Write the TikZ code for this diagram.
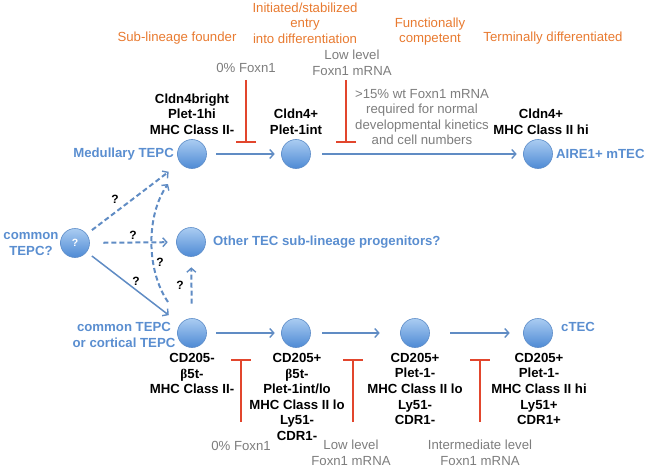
\documentclass[tikz,border=0pt]{standalone}
\usepackage{fontspec}
\setmainfont{Liberation Sans}
\newfontfamily\serifbeta{Liberation Serif}
\usetikzlibrary{arrows.meta}
\definecolor{orangeT}{RGB}{232,122,48}
\definecolor{blueT}{RGB}{90,142,208}
\definecolor{grayT}{RGB}{125,125,125}
\definecolor{redL}{RGB}{226,70,45}
\definecolor{arrowB}{RGB}{96,140,196}
\definecolor{circTop}{RGB}{170,204,242}
\definecolor{circBot}{RGB}{78,138,212}
\definecolor{circEdge}{RGB}{92,140,200}
\newcommand{\bt}{{\serifbeta\bfseries\char"03B2}}
\begin{document}
\begin{tikzpicture}[x=1pt,y=-1pt,
  every node/.style={inner sep=0pt, font=\fontsize{13.2}{15.6}\selectfont},
  cell/.style={circle, minimum size=29pt, draw=circEdge, line width=0.6pt, top color=circTop, bottom color=circBot},
  orng/.style={text=orangeT, align=center},
  gry/.style={text=grayT, align=center},
  mlabel/.style={text=black, align=center, font=\fontsize{13.2}{15.6}\selectfont\bfseries},
  blu/.style={text=blueT, font=\fontsize{13.2}{15.6}\selectfont\bfseries},
  qm/.style={text=black, font=\fontsize{12}{14}\selectfont\bfseries},
  flow/.style={draw=arrowB, line width=1.5pt, -{Straight Barb[length=4pt,width=9pt,line width=1.4pt]}},
  dflow/.style={flow, line width=2pt, dash pattern=on 5pt off 3pt},
  inhib/.style={draw=redL, line width=2pt, -{Bar[width=20pt,line width=2pt]}}
]
\useasboundingbox (0,0) rectangle (647,468);

% cells
\node[cell] (mt) at (192,154) {};
\node[cell] (m2) at (296,154) {};
\node[cell] (m3) at (538,154) {};
\node[cell] (ct) at (75,243) {\color{white}\fontsize{10.5}{12}\selectfont\bfseries ?};
\node[cell] (ot) at (191,242) {};
\node[cell] (c1) at (192,333) {};
\node[cell] (c2) at (296,333) {};
\node[cell] (c3) at (415,333) {};
\node[cell] (c4) at (538,333) {};

% stage labels
\node[orng] (s1) at (177,38) {Sub-lineage founder};
\node[orng] (s2) at (305,23) {Initiated/stabilized\\entry\\into differentiation};
\node[orng] (s3) at (430,31.5) {Functionally\\competent};
\node[orng] (s4) at (553,38) {Terminally differentiated};

% top gray labels
\node[gry] (g1) at (246,68) {0\% Foxn1};
\node[gry] (g2) at (352,63) {Low level\\Foxn1 mRNA};
\node[gry] (g3) at (422,117) {>15\% wt Foxn1 mRNA\\required for normal\\developmental kinetics\\and cell numbers};

% top markers
\node[mlabel] (k1) at (192,114) {Cldn4bright\\Plet-1hi\\MHC Class II-};
\node[mlabel] (k2) at (296,122) {Cldn4+\\Plet-1int};
\node[mlabel] (k3) at (541,122) {Cldn4+\\MHC Class II hi};

% blue labels
\node[blu, anchor=east] (lmt) at (174,154) {Medullary TEPC};
\node[blu, anchor=west] (lm3) at (556,154) {AIRE1+ mTEC};
\node[blu, align=center] (lct) at (31,244) {common\\TEPC?};
\node[blu, anchor=west] (lot) at (213,242) {Other TEC sub-lineage progenitors?};
\node[blu, align=center] (lc1) at (124,335) {common TEPC\\or cortical TEPC};
\node[blu, anchor=west] (lc4) at (561,327) {cTEC};

% bottom markers
\node[mlabel] (b1) at (192,373.5) {CD205-\\\bt 5t-\\MHC Class II-};
\node[mlabel] (b2) at (297,397) {CD205+\\\bt 5t-\\Plet-1int/lo\\MHC Class II lo\\Ly51-\\CDR1-};
\node[mlabel] (b3) at (415,389) {CD205+\\Plet-1-\\MHC Class II lo\\Ly51-\\CDR1-};
\node[mlabel] (b4) at (539,389) {CD205+\\Plet-1-\\MHC Class II hi\\Ly51+\\CDR1+};

% bottom gray labels
\node[gry] (h1) at (241,446) {0\% Foxn1};
\node[gry] (h2) at (351,452.5) {Low level\\Foxn1 mRNA};
\node[gry] (h3) at (480,452.5) {Intermediate level\\Foxn1 mRNA};

% solid flows
\draw[flow, shorten <=9.5pt, shorten >=6.5pt] (mt) -- (m2);
\draw[flow, shorten <=11.5pt, shorten >=6.5pt] (m2) -- (m3);
\draw[flow, shorten <=9.5pt, shorten >=6.5pt] (c1) -- (c2);
\draw[flow, shorten <=11.5pt, shorten >=20.5pt] (c2) -- (c3);
\draw[flow, shorten <=20.5pt, shorten >=13.5pt] (c3) -- (c4);
\draw[flow, shorten <=6.5pt, shorten >=14.5pt] (ct) -- (c1);

% dashed flows
\draw[dflow, shorten <=6.5pt, shorten >=14.5pt] (ct) -- (mt);
\draw[dflow, shorten <=13.5pt, shorten >=8.5pt] (ct) -- (ot);
\draw[dflow, shorten <=14.5pt, shorten >=10.5pt] (c1) -- (ot);
\coordinate (cs) at (168,302);
\coordinate (ce) at (168,184);
\draw[dflow] (cs) .. controls (146,270) and (146,215) .. (ce);

% question marks
\node[qm] (q1) at (115,199) {?};
\node[qm] (q2) at (133,235) {?};
\node[qm] (q3) at (136,281) {?};
\node[qm] (q4) at (160,262) {?};
\node[qm] (q5) at (180,285) {?};

% inhibitions
\coordinate (i1a) at (246,80);  \coordinate (i1b) at (246,143);
\coordinate (i2a) at (346,80);  \coordinate (i2b) at (346,143);
\coordinate (j1a) at (241,422); \coordinate (j1b) at (241,359);
\coordinate (j2a) at (353,422); \coordinate (j2b) at (353,359);
\coordinate (j3a) at (480,422); \coordinate (j3b) at (480,359);
\draw[inhib] (i1a) -- (i1b);
\draw[inhib] (i2a) -- (i2b);
\draw[inhib] (j1a) -- (j1b);
\draw[inhib] (j2a) -- (j2b);
\draw[inhib] (j3a) -- (j3b);
\end{tikzpicture}
\end{document}
